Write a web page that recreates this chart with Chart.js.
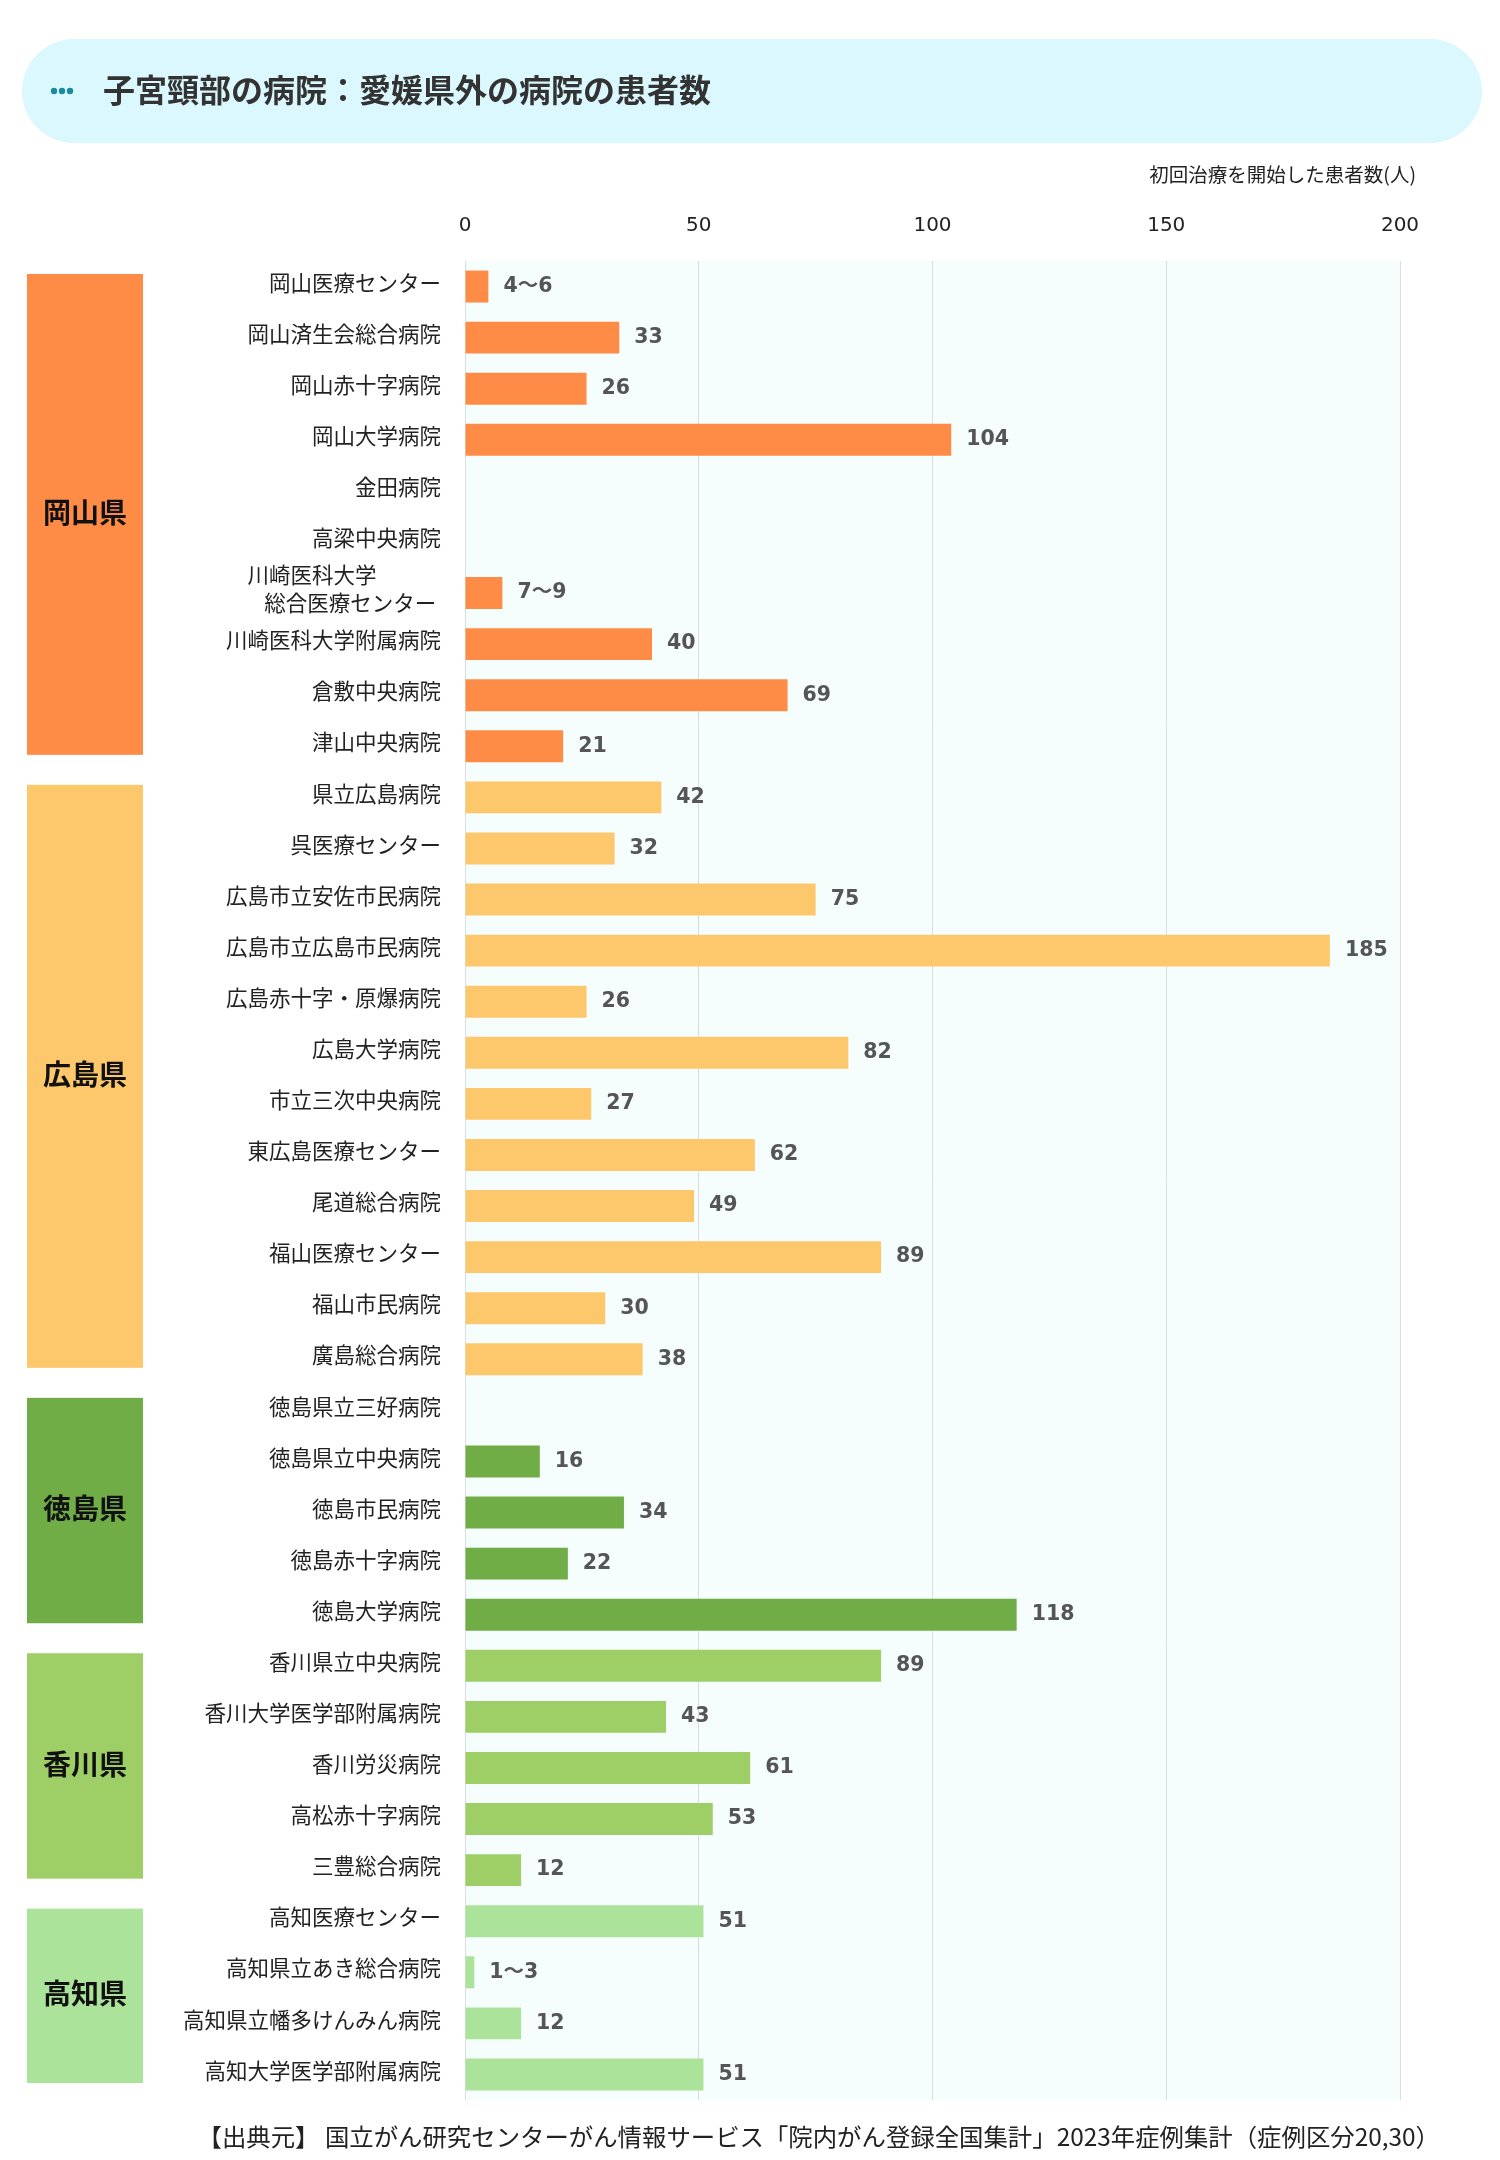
<!doctype html>
<html lang="ja">
<head>
<meta charset="utf-8">
<title>子宮頸部の病院：愛媛県外の病院の患者数</title>
<script src="https://cdn.jsdelivr.net/npm/chart.js@4.4.1/dist/chart.umd.min.js"></script>
<style>
  html, body { margin: 0; padding: 0; background: #fff; }
  #chart { display: block; }
</style>
</head>
<body>
<canvas id="chart" width="1500" height="2160"></canvas>
<script>
    var chartTitle = '子宮頸部の病院：愛媛県外の病院の患者数';
    var axisTitle = '初回治療を開始した患者数(人)';
    var sourceText = '【出典元】 国立がん研究センターがん情報サービス「院内がん登録全国集計」2023年症例集計（症例区分20,30）';

    var hospitals = [
        '岡山医療センター', '岡山済生会総合病院', '岡山赤十字病院', '岡山大学病院', '金田病院',
        '高梁中央病院', ['川崎医科大学　　　', '総合医療センター '], '川崎医科大学附属病院', '倉敷中央病院', '津山中央病院',
        '県立広島病院', '呉医療センター', '広島市立安佐市民病院', '広島市立広島市民病院', '広島赤十字・原爆病院',
        '広島大学病院', '市立三次中央病院', '東広島医療センター', '尾道総合病院', '福山医療センター',
        '福山市民病院', '廣島総合病院',
        '徳島県立三好病院', '徳島県立中央病院', '徳島市民病院', '徳島赤十字病院', '徳島大学病院',
        '香川県立中央病院', '香川大学医学部附属病院', '香川労災病院', '高松赤十字病院', '三豊総合病院',
        '高知医療センター', '高知県立あき総合病院', '高知県立幡多けんみん病院', '高知大学医学部附属病院'
    ];

    // 範囲表示（4～6 など）は中央値で棒を描く
    var patients = [
        5, 33, 26, 104, null, null, 8, 40, 69, 21,
        42, 32, 75, 185, 26, 82, 27, 62, 49, 89, 30, 38,
        null, 16, 34, 22, 118,
        89, 43, 61, 53, 12,
        51, 2, 12, 51
    ];

    var valueLabels = [
        '4～6', '33', '26', '104', '', '', '7～9', '40', '69', '21',
        '42', '32', '75', '185', '26', '82', '27', '62', '49', '89', '30', '38',
        '', '16', '34', '22', '118',
        '89', '43', '61', '53', '12',
        '51', '1～3', '12', '51'
    ];

    var prefectures = ['岡山県', '広島県', '徳島県', '香川県', '高知県'];
    var prefCounts = [10, 12, 5, 5, 4];
    var prefColors = ['#ff8c46', '#fdc76c', '#70ad47', '#9ecf66', '#abe39a'];

    var xMin = 0, xMax = 200, xStep = 50;

    // 棒の色は県ごと
    var barColors = [];
    for (var p = 0; p < prefectures.length; p++) {
        for (var k = 0; k < prefCounts[p]; k++) barColors.push(prefColors[p]);
    }

    var JP = '"Noto Sans CJK JP", "Noto Sans", sans-serif';
    var NUM = '"DejaVu Sans", "Noto Sans CJK JP", sans-serif';

    var decor = {
        id: 'decor',
        beforeDraw: function (chart) {
            var ctx = chart.ctx, a = chart.chartArea;
            ctx.save();
            ctx.fillStyle = '#fff';
            ctx.fillRect(0, 0, chart.width, chart.height);

            // 見出し
            var x0 = 22, y0 = 39, w = 1460, h = 104, r = 52;
            ctx.fillStyle = '#dbf8fe';
            ctx.beginPath();
            ctx.moveTo(x0 + r, y0);
            ctx.lineTo(x0 + w - r, y0);
            ctx.arc(x0 + w - r, y0 + r, r, -Math.PI / 2, Math.PI / 2);
            ctx.lineTo(x0 + r, y0 + h);
            ctx.arc(x0 + r, y0 + r, r, Math.PI / 2, Math.PI * 1.5);
            ctx.closePath();
            ctx.fill();

            ctx.fillStyle = '#1a8a9c';
            [54, 62, 70].forEach(function (cx) {
                ctx.beginPath();
                ctx.arc(cx, 91, 3.2, 0, Math.PI * 2);
                ctx.fill();
            });

            ctx.fillStyle = '#333';
            ctx.font = 'bold 32px ' + JP;
            ctx.textBaseline = 'middle';
            ctx.textAlign = 'left';
            ctx.fillText(chartTitle, 103, 90);

            ctx.fillStyle = '#222';
            ctx.font = '19.5px ' + JP;
            ctx.textAlign = 'right';
            ctx.fillText(axisTitle, 1416, 175);

            ctx.font = '24.4px ' + JP;
            ctx.fillText(sourceText, 1440, 2137);

            // 描画エリア背景
            ctx.fillStyle = '#f6fdfd';
            ctx.fillRect(a.left, a.top, a.right - a.left, a.bottom - a.top);

            // 県ラベル
            var ys = chart.scales.y;
            var half = (ys.bottom - ys.top) / hospitals.length / 2;
            var start = 0;
            for (var i = 0; i < prefectures.length; i++) {
                var end = start + prefCounts[i] - 1;
                var top = ys.getPixelForValue(start) - half + 13;
                var bottom = ys.getPixelForValue(end) + half - 17;
                ctx.fillStyle = prefColors[i];
                ctx.fillRect(27, top, 116, bottom - top);
                ctx.fillStyle = '#111';
                ctx.font = 'bold 28px ' + JP;
                ctx.textAlign = 'center';
                ctx.fillText(prefectures[i], 85, (top + bottom) / 2 - 2);
                start = end + 1;
            }
            ctx.restore();
        },
        afterDatasetsDraw: function (chart) {
            var ctx = chart.ctx;
            var meta = chart.getDatasetMeta(0);
            ctx.save();
            ctx.font = 'bold 20.5px ' + NUM;
            ctx.fillStyle = '#555';
            ctx.textAlign = 'left';
            ctx.textBaseline = 'middle';
            meta.data.forEach(function (bar, i) {
                if (patients[i] == null) return;
                ctx.fillText(valueLabels[i], bar.x + 15, bar.y);
            });
            ctx.restore();
        }
    };

    new Chart(document.getElementById('chart').getContext('2d'), {
        type: 'bar',
        data: {
            labels: hospitals,
            datasets: [{
                data: patients,
                backgroundColor: barColors,
                borderWidth: 0,
                barPercentage: 0.626,
                categoryPercentage: 1
            }]
        },
        options: {
            indexAxis: 'y',
            responsive: false,
            animation: false,
            devicePixelRatio: 1,
            layout: { padding: { left: 0, right: 100, top: 0, bottom: 60 } },
            plugins: {
                legend: { display: false },
                tooltip: { enabled: false }
            },
            scales: {
                x: {
                    position: 'top',
                    min: xMin,
                    max: xMax,
                    afterFit: function (s) { s.height = 261; },
                    ticks: {
                        stepSize: xStep,
                        padding: 23,
                        color: '#222',
                        font: { family: NUM, size: 20, lineHeight: 1.2 }
                    },
                    grid: { color: '#dcdcdc', lineWidth: 1, drawTicks: false },
                    border: { display: false }
                },
                y: {
                    afterFit: function (s) { s.width = 465; },
                    ticks: {
                        padding: 24,
                        labelOffset: -4,
                        color: '#222',
                        autoSkip: false,
                        font: { family: JP, size: 21.5, lineHeight: 1.3 }
                    },
                    grid: { display: false, drawTicks: false },
                    border: { display: false }
                }
            }
        },
        plugins: [decor]
    });
</script>
</body>
</html>
